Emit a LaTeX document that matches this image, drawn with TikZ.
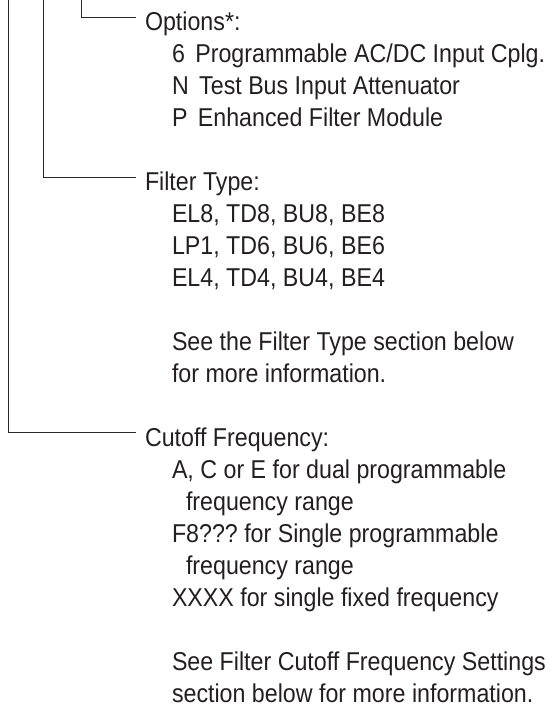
\documentclass[tikz,border=0pt]{standalone}
\usepackage{fontspec}
\setmainfont{Liberation Sans}[FakeStretch=0.9]
\definecolor{textc}{HTML}{231F20}
\definecolor{linec}{HTML}{2A2627}
\frenchspacing
\newcommand{\optgap}{\ \kern4pt}
\begin{document}
\begin{tikzpicture}[x=1pt,y=-1pt,
  txt/.style={anchor=base west,inner sep=0pt,outer sep=0pt,text=textc,
    font=\fontsize{25.8}{32}\selectfont},
  lead/.style={draw=linec,line width=0.9pt}]
\useasboundingbox (0,0) rectangle (552,707);
% headings and text lines (baseline = 30.3 + 32*i)
\node[txt] (opt)  at (145, 30.3) {Options*:};
\node[txt] (o6)   at (172, 62.3) {6\optgap Programmable AC/DC Input Cplg.};
\node[txt] (oN)   at (172, 94.3) {N\optgap Test Bus Input Attenuator};
\node[txt] (oP)   at (172,126.3) {P\optgap Enhanced Filter Module};
\node[txt] (ft)   at (145,190.3) {Filter Type:};
\node[txt] (ft1)  at (172,222.3) {EL8, TD8, BU8, BE8};
\node[txt] (ft2)  at (172,254.3) {LP1, TD6, BU6, BE6};
\node[txt] (ft3)  at (172,286.3) {EL4, TD4, BU4, BE4};
\node[txt] (ftA)  at (172,350.3) {See the Filter Type section below};
\node[txt] (ftB)  at (172,382.3) {for more information.};
\node[txt] (cf)   at (145,446.3) {Cutoff Frequency:};
\node[txt] (cf1)  at (172,478.3) {A, C or E for dual programmable};
\node[txt] (cf1b) at (186,510.3) {frequency range};
\node[txt] (cf2)  at (172,542.3) {F8??? for Single programmable};
\node[txt] (cf2b) at (186,574.3) {frequency range};
\node[txt] (cf3)  at (172,606.3) {XXXX for single fixed frequency};
\node[txt] (cfA)  at (172,670.3) {See Filter Cutoff Frequency Settings};
\node[txt] (cfB)  at (172,702.3) {section below for more information.};
% leader lines
\coordinate (top1) at (8,0);
\coordinate (top2) at (43,0);
\coordinate (top3) at (81,0);
\draw[lead] (top3) |- ([xshift=-9pt,yshift=12.5pt]opt.base west);
\draw[lead] (top2) |- ([xshift=-9pt,yshift=12.5pt]ft.base west);
\draw[lead] (top1) |- ([xshift=-9pt,yshift=13.5pt]cf.base west);
\end{tikzpicture}
\end{document}
